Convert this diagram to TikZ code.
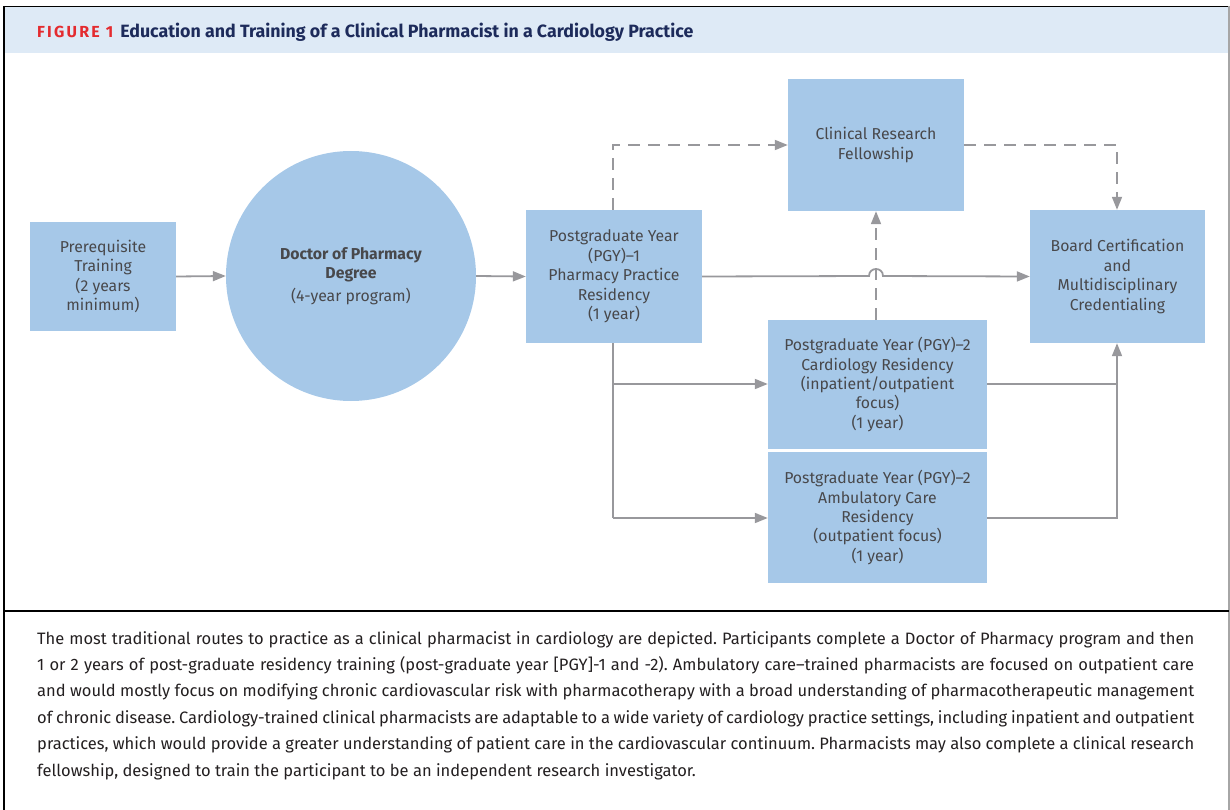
\documentclass[tikz,border=0pt]{standalone}
\usepackage{fontspec}
\setmainfont{Fira Sans}
\usetikzlibrary{arrows.meta,shapes.geometric}
\definecolor{boxblue}{HTML}{A6C8E8}
\definecolor{boxtext}{HTML}{48484B}
\definecolor{linegray}{HTML}{98989C}
\definecolor{headerbg}{HTML}{DEEAF6}
\definecolor{figred}{HTML}{E42B2F}
\definecolor{navy}{HTML}{1D2B5B}
\definecolor{captext}{HTML}{231F20}
\tikzset{
  stagebox/.style={rectangle, fill=boxblue, draw=none, inner sep=0pt, align=center,
    text=boxtext, font=\fontsize{15.8}{19.4}\selectfont},
  stagecircle/.style={circle, fill=boxblue, draw=none, inner sep=0pt, minimum size=250pt,
    align=center, text=boxtext, font=\fontsize{15.8}{19.4}\selectfont},
  flow/.style={draw=linegray, line width=1.8pt, -{Triangle[length=13pt,width=10pt]}},
  flowplain/.style={draw=linegray, line width=1.8pt},
  flowdash/.style={flow, dash pattern=on 12pt off 8pt},
  frameline/.style={draw=black, line width=1.6pt}
}
\begin{document}
\begin{tikzpicture}[x=1pt,y=-1pt]
\useasboundingbox (0,0) rectangle (1230,810);
% header band and frame
\fill[headerbg] (4,7) rectangle (1229,53);
\draw[frameline] (4,6.5) -- (1229,6.5);
\draw[frameline] (4,6) -- (4,810);
\draw[draw=gray!70, line width=1.2pt] (1229,6) -- (1229,810);
\draw[frameline] (4,611) -- (1229,611);
\node[anchor=base west, inner sep=0pt, font=\bfseries\fontsize{17.8}{20}\selectfont] (title) at (37,38)
  {\textcolor{figred}{\fontsize{16}{18}\selectfont\addfontfeature{LetterSpace=14}FIGURE 1}\hspace{7pt}\textcolor{navy}{Education and Training of a Clinical Pharmacist in a Cardiology Practice}};

% stages
\node[stagebox, minimum width=146pt, minimum height=109pt] (pre) at (103,276.5)
  {Prerequisite\\Training\\(2 years\\minimum)};
\node[stagecircle] (pharmd) at (351,276)
  {\textbf{Doctor of Pharmacy}\\\textbf{Degree}\\[3pt](4-year program)};
\node[stagebox, minimum width=176pt, minimum height=133pt] (pgy1) at (614,276.5)
  {Postgraduate Year\\(PGY)–1\\Pharmacy Practice\\Residency\\(1 year)};
\node[stagebox, minimum width=176pt, minimum height=132pt] (fellow) at (876,145)
  {Clinical Research\\Fellowship};
\node[stagebox, minimum width=175pt, minimum height=133pt] (board) at (1117.5,276.5)
  {Board Certification\\and\\Multidisciplinary\\Credentialing};
\node[stagebox, minimum width=219pt, minimum height=129pt] (cardio) at (877.5,384.5)
  {Postgraduate Year (PGY)–2\\Cardiology Residency\\(inpatient/outpatient\\focus)\\(1 year)};
\node[stagebox, minimum width=219pt, minimum height=131pt] (ambu) at (877.5,517.5)
  {Postgraduate Year (PGY)–2\\Ambulatory Care\\Residency\\(outpatient focus)\\(1 year)};

% junction points
\coordinate (pgyTop) at (613,210);
\coordinate (pgyBot) at (613,343);
\coordinate (fellowIn) at (613,145);
\coordinate (fellowOut) at (1117,145);
\coordinate (cardioIn) at (613,384);
\coordinate (ambuIn) at (613,518);
\coordinate (cardioOut) at (1117,384);
\coordinate (ambuOut) at (1117,518);
\coordinate (hopL) at (869,276);
\coordinate (hopR) at (883,276);

% main route
\draw[flow] (pre.east) -- (pharmd.west);
\draw[flow] (pharmd.east) -- (pgy1.west);
\draw[flow] (pgy1.east) -- (hopL) .. controls (869,266.7) and (883,266.7) .. (hopR) -- (board.west);

% fellowship route (dashed)
\draw[flowdash] (pgyTop) -- (fellowIn) -- (fellow.west |- fellowIn);
\draw[flowdash] (fellow.east |- fellowOut) -- (fellowOut) -- (board.north -| fellowOut);
\draw[flowdash] (cardio.north -| fellow.south) -- (fellow.south);

% PGY-2 routes
\draw[flowplain] (pgyBot) -- (ambuIn);
\draw[flow] (cardioIn) -- (cardio.west |- cardioIn);
\draw[flow] (ambuIn) -- (ambu.west |- ambuIn);
\draw[flowplain] (cardio.east |- cardioOut) -- (cardioOut);
\draw[flow] (ambu.east |- ambuOut) -- (ambuOut) -- (board.south -| ambuOut);

% caption
\node[anchor=north west, inner sep=0pt, text width=1157pt, align=justify, text=captext,
  font=\fontsize{16.5}{26.4}\selectfont] (caption) at (37,631)
  {\frenchspacing\tolerance=10000\hyphenpenalty=10000\emergencystretch=20pt
  The most traditional routes to practice as a clinical pharmacist in cardiology are depicted. Participants complete a Doctor of Pharmacy program and then\linebreak
  1 or 2 years of post-graduate residency training (post-graduate year [PGY]-1 and -2). Ambulatory care–trained pharmacists are focused on outpatient care\linebreak
  and would mostly focus on modifying chronic cardiovascular risk with pharmacotherapy with a broad understanding of pharmacotherapeutic management\linebreak
  of chronic disease. Cardiology-trained clinical pharmacists are adaptable to a wide variety of cardiology practice settings, including inpatient and outpatient\linebreak
  practices, which would provide a greater understanding of patient care in the cardiovascular continuum. Pharmacists may also complete a clinical research\linebreak
  fellowship, designed to train the participant to be an independent research investigator.};
\end{tikzpicture}
\end{document}
